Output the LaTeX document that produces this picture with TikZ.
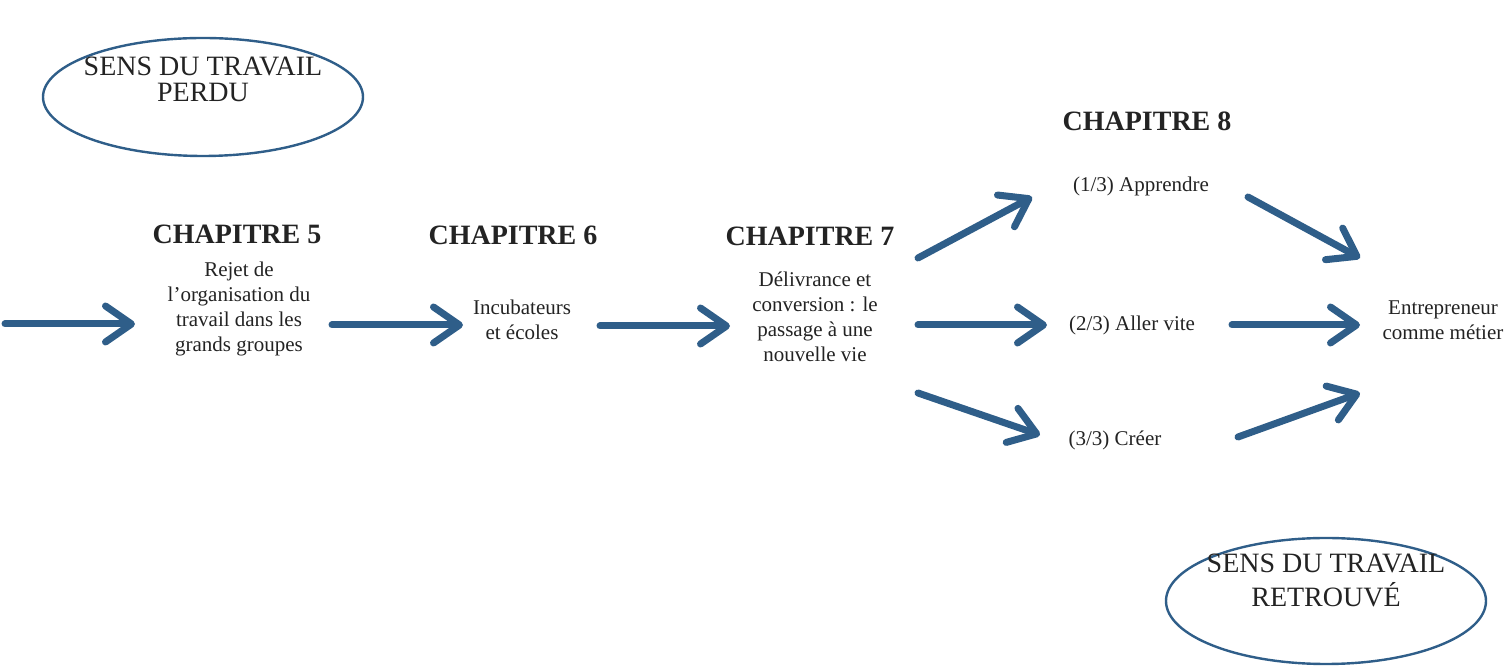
\documentclass[tikz,border=0pt]{standalone}
\usepackage{fontspec}
\setmainfont{Liberation Serif}
\usetikzlibrary{arrows.meta,shapes.geometric}
\definecolor{flowblue}{RGB}{47,94,137}
\definecolor{inkgray}{RGB}{35,35,35}

\begin{document}
\begin{tikzpicture}[x=0.5pt,y=-0.5pt,
  every node/.style={text=inkgray, inner sep=0pt},
  chap/.style={font=\fontsize{14}{16}\selectfont\bfseries},
  body/.style={font=\fontsize{10.5}{12.5}\selectfont, align=center},
  sens/.style={draw=flowblue, line width=1.2pt, ellipse, minimum width=160pt, minimum height=59pt},
  senstext/.style={font=\fontsize{14}{13}\selectfont, align=center},
  chapflow/.style={draw=flowblue, line width=3.5pt, line cap=round,
    -{Straight Barb[length=13pt,width=18pt,round]}}]
\useasboundingbox (0,0) rectangle (1506,667);
% meaning lost / found
\node[sens, label={[senstext, yshift=9pt]center:{SENS DU TRAVAIL\\PERDU}}] (lost) at (203,97) {};
\node[sens, minimum height=63pt, label={[senstext, yshift=10.5pt]center:{SENS DU TRAVAIL\\[4pt]RETROUVÉ}}] (found) at (1326,601) {};
% chapter titles
\node[chap] (h5) at (237,234) {CHAPITRE 5};
\node[chap] (h6) at (513,235) {CHAPITRE 6};
\node[chap] (h7) at (810,236) {CHAPITRE 7};
\node[chap] (h8) at (1147,121) {CHAPITRE 8};
% chapter contents
\node[body] (t5) at (239,309) {Rejet de\\l’organisation du\\travail dans les\\grands groupes};
\node[body] (t6) at (522,320) {Incubateurs\\et écoles};
\node[body] (t7) at (815,317) {Délivrance et\\conversion : le\\passage à une\\nouvelle vie};
\node[body] (ap) at (1141,186) {(1/3) Apprendre};
\node[body] (al) at (1132,325) {(2/3) Aller vite};
\node[body] (cr) at (1115,440) {(3/3) Créer};
\node[body] (en) at (1443,320) {Entrepreneur\\comme métier};
\coordinate (in) at (5,324);
% arrows
\draw[chapflow] (in) -- ([shift={(-104,15)}]t5.center);
\draw[chapflow] ([shift={(93,16)}]t5.center) -- ([shift={(-59,5)}]t6.center);
\draw[chapflow] ([shift={(78,6)}]t6.center) -- ([shift={(-85,9)}]t7.center);
\draw[chapflow] ([shift={(103,-59)}]t7.center) -- ([shift={(-109,11)}]ap.center);
\draw[chapflow] ([shift={(103,8)}]t7.center) -- ([shift={(-85,0)}]al.center);
\draw[chapflow] ([shift={(103,76)}]t7.center) -- ([shift={(-75,-5)}]cr.center);
\draw[chapflow] ([shift={(107,11)}]ap.center) -- ([shift={(-83,-62)}]en.center);
\draw[chapflow] ([shift={(100,0)}]al.center) -- ([shift={(-83,5)}]en.center);
\draw[chapflow] ([shift={(123,-3)}]cr.center) -- ([shift={(-83,73)}]en.center);
\end{tikzpicture}
\end{document}
